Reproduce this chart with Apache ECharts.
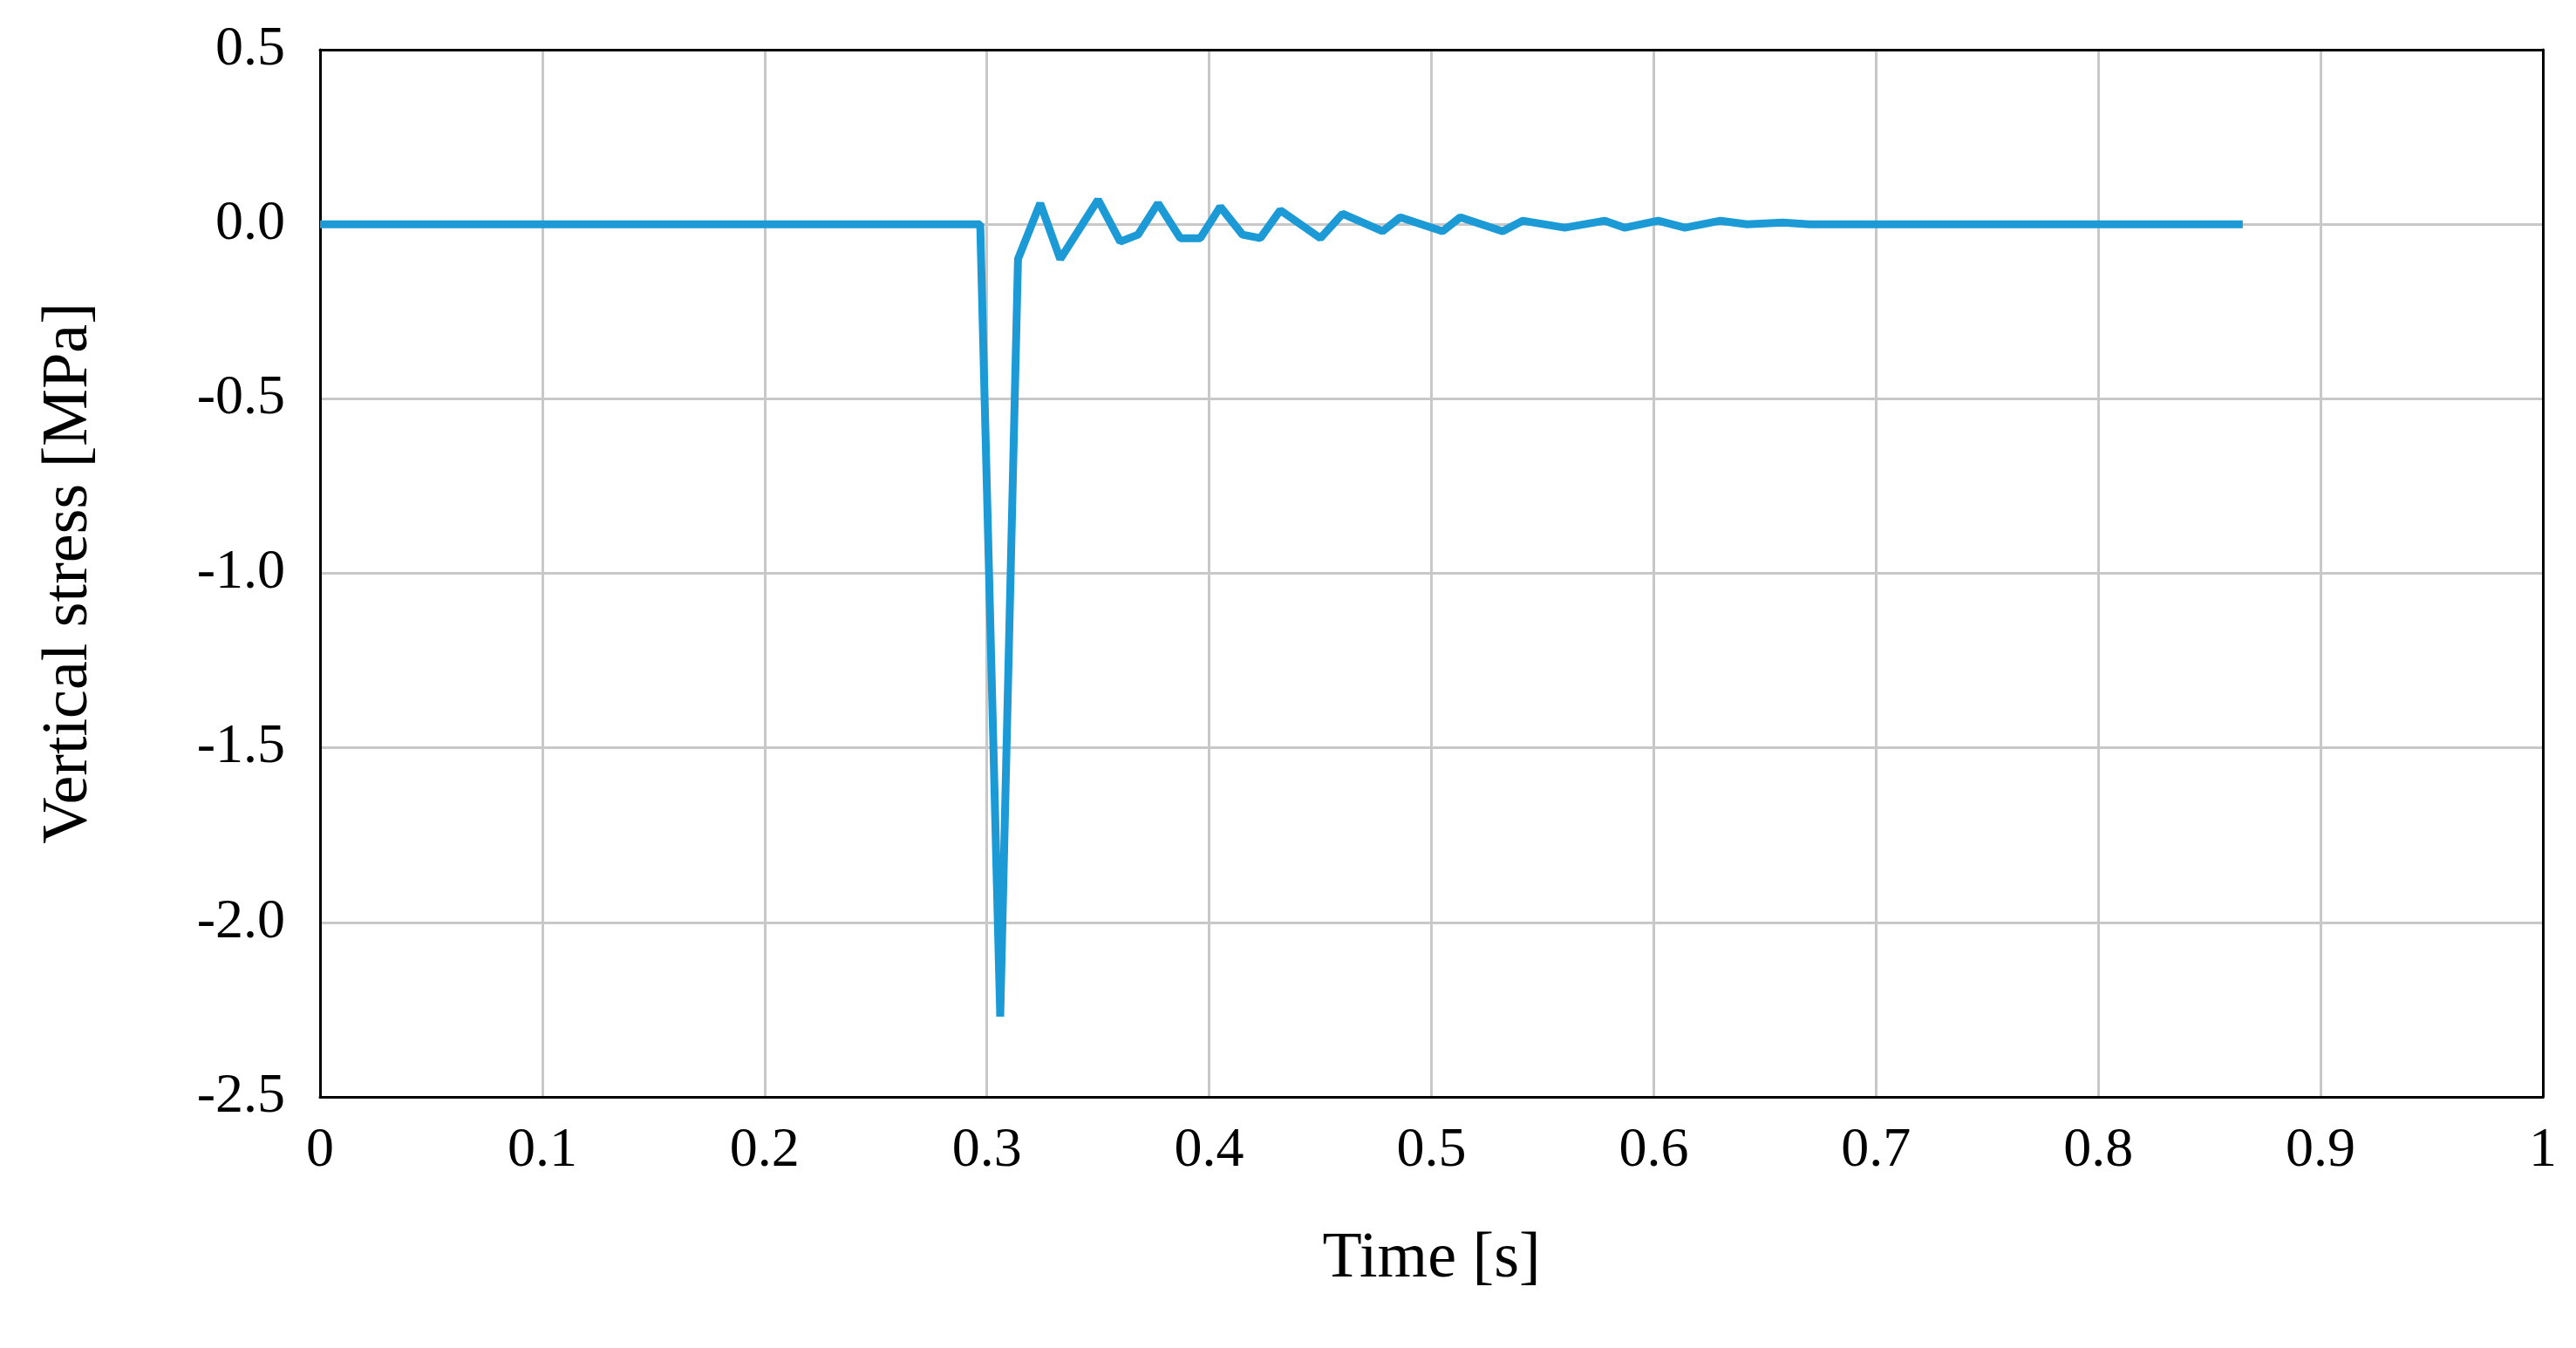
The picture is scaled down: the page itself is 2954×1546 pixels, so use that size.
<!DOCTYPE html>
<html>
<head>
<meta charset="utf-8">
<script src="https://cdn.jsdelivr.net/npm/echarts@6/dist/echarts.min.js"></script>
<style>html,body{margin:0;padding:0;background:#fff}#chart{width:2954px;height:1546px}</style>
</head>
<body>
<div id="chart"></div>
<script>
// time [s] and vertical stress [MPa]
var times = [0, 0.297, 0.306, 0.314, 0.324, 0.333, 0.350, 0.360, 0.368, 0.377, 0.387, 0.396, 0.405, 0.415, 0.423, 0.432, 0.450, 0.460, 0.478, 0.486, 0.505, 0.513, 0.532, 0.541, 0.560, 0.578, 0.587, 0.602, 0.614, 0.630, 0.642, 0.658, 0.670, 0.865];
var stress = [0, 0, -2.27, -0.10, 0.06, -0.10, 0.07, -0.05, -0.03, 0.06, -0.04, -0.04, 0.05, -0.03, -0.04, 0.04, -0.04, 0.03, -0.02, 0.02, -0.02, 0.02, -0.02, 0.01, -0.01, 0.01, -0.01, 0.01, -0.01, 0.01, 0.0, 0.005, 0, 0];
var xTicks = [0, 0.1, 0.2, 0.3, 0.4, 0.5, 0.6, 0.7, 0.8, 0.9, 1];

var chart = echarts.init(document.getElementById('chart'));
var font = 'Liberation Serif';
var black = {show: true, onZero: false, lineStyle: {color: '#000', width: 3}};
var grid = {show: true, lineStyle: {color: '#c8c8c8', width: 3}};
var points = times.map(function (t, i) { return [t, stress[i]]; });
chart.setOption({
    animation: false,
    grid: {left: 367, right: 38, top: 57, bottom: 288},
    xAxis: [{
        type: 'value', min: 0, max: 1, interval: 0.1,
        name: 'Time [s]', nameLocation: 'middle', nameGap: 150,
        nameTextStyle: {fontFamily: font, fontSize: 74, color: '#000'},
        axisLine: black, axisTick: {show: false},
        axisLabel: {fontFamily: font, fontSize: 64, color: '#000', margin: 30,
            formatter: function (v) { var r = Math.round(v * 10) / 10; return xTicks.indexOf(r) >= 0 ? String(r) : ''; }},
        splitLine: grid
    }, {
        type: 'value', position: 'top', min: 0, max: 1,
        axisLine: black, axisTick: {show: false}, axisLabel: {show: false}, splitLine: {show: false}
    }],
    yAxis: [{
        type: 'value', min: -2.5, max: 0.5, interval: 0.5,
        name: 'Vertical stress [MPa]', nameLocation: 'middle', nameGap: 250,
        nameTextStyle: {fontFamily: font, fontSize: 74, color: '#000'},
        axisLine: black, axisTick: {show: false},
        axisLabel: {fontFamily: font, fontSize: 64, color: '#000', margin: 40,
            formatter: function (v) { return v.toFixed(1); }},
        splitLine: grid
    }, {
        type: 'value', position: 'right', min: -2.5, max: 0.5,
        axisLine: black, axisTick: {show: false}, axisLabel: {show: false}, splitLine: {show: false}
    }],
    series: [{
        type: 'line', data: points, showSymbol: false,
        lineStyle: {color: '#1b9ad6', width: 9}
    }]
});
</script>
</body>
</html>
